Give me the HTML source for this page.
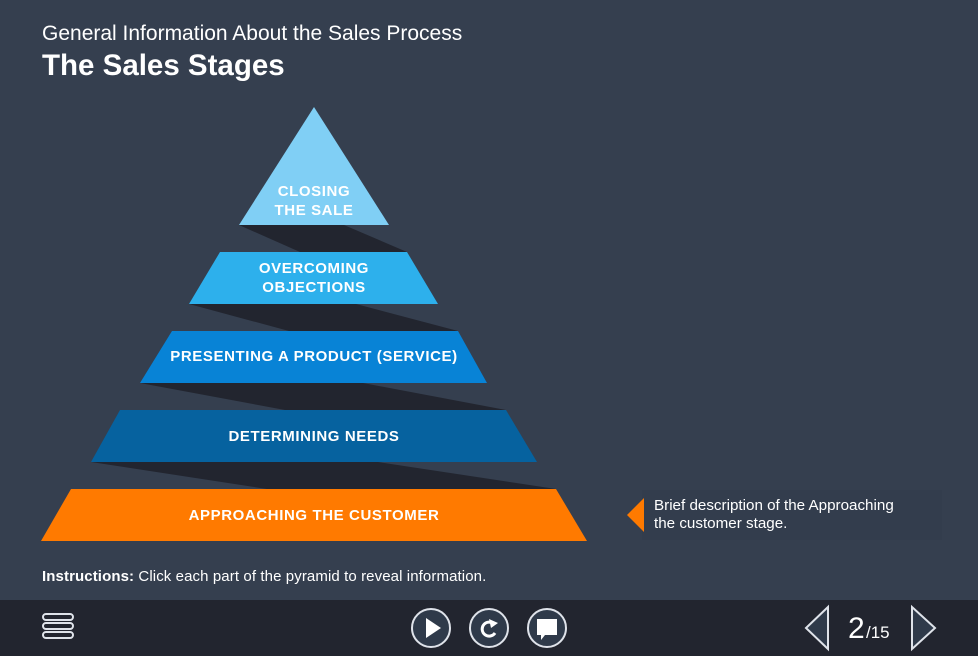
<!DOCTYPE html>
<html><head><style>
body{margin:0;width:978px;height:656px;background:#353f4f;font-family:"Liberation Sans",sans-serif;overflow:hidden;position:relative;color:#fff}
.t1{position:absolute;left:42px;top:22px;font-size:21px}
.t2{position:absolute;left:42px;top:49px;font-size:29.5px;font-weight:bold}
.lab{font-weight:bold;font-size:15px;letter-spacing:0.6px;fill:#fff;text-anchor:middle;font-family:"Liberation Sans",sans-serif}
.desc{position:absolute;left:642px;top:490px;width:300px;height:50px;background:#333d4d}
.dtxt{position:absolute;left:654px;top:497px;font-size:15.2px;line-height:18px}
.ins{position:absolute;left:42px;top:568px;font-size:15px;letter-spacing:0.1px}
.bar{position:absolute;left:0;top:600px;width:978px;height:56px;background:#22252f}
</style></head><body>
<div class="t1">General Information About the Sales Process</div>
<div class="t2">The Sales Stages</div>
<div class="desc"></div>
<svg width="978" height="656" style="position:absolute;left:0;top:0">
<g fill="#22252f">
<polygon points="239,225 344,225 407,252 300,252"/>
<polygon points="189,304 356,304 458,331 289,331"/>
<polygon points="140,383 363,383 506,410 285,410"/>
<polygon points="91,462 378,462 556,489 267,489"/>
</g>
<polygon points="314,107 389,225 239,225" fill="#80cff5"/>
<polygon points="220,252 407,252 438,304 189,304" fill="#2db0ec"/>
<polygon points="172,331 458,331 487,383 140,383" fill="#0883d6"/>
<polygon points="120,410 506,410 537,462 91,462" fill="#06629f"/>
<polygon points="71,489 556,489 587,541 41,541" fill="#ff7a00"/>
<text class="lab" x="314" y="196">CLOSING</text>
<text class="lab" x="314" y="215">THE SALE</text>
<text class="lab" x="314" y="273">OVERCOMING</text>
<text class="lab" x="314" y="292">OBJECTIONS</text>
<text class="lab" x="314" y="361">PRESENTING A PRODUCT (SERVICE)</text>
<text class="lab" x="314" y="441">DETERMINING NEEDS</text>
<text class="lab" x="314" y="520">APPROACHING THE CUSTOMER</text>
<polygon points="644,498 644,532 627,515" fill="#ff7a00"/>
</svg>
<div class="dtxt">Brief description of the Approaching<br>the customer stage.</div>
<div class="ins"><b>Instructions:</b> Click each part of the pyramid to reveal information.</div>
<div class="bar"></div>
<svg width="978" height="56" style="position:absolute;left:0;top:600px">
<g fill="none" stroke="#dfe3ea" stroke-width="2">
<rect x="43" y="14" width="30" height="6" rx="3"/>
<rect x="43" y="23" width="30" height="6" rx="3"/>
<rect x="43" y="32" width="30" height="6" rx="3"/>
<circle cx="431" cy="28" r="19" fill="#2f3a4a"/>
<circle cx="489" cy="28" r="19" fill="#2f3a4a"/>
<circle cx="547" cy="28" r="19" fill="#2f3a4a"/>
<polygon points="806,28 828,7 828,49" fill="#2f3a4a"/>
<polygon points="935,28 912,7 912,49" fill="#2f3a4a"/>
</g>
<polygon points="426,18 426,38 441,28" fill="#fff"/>
<path d="M494,24 A7,7 0 1 0 495,33" fill="none" stroke="#fff" stroke-width="3"/>
<polygon points="489,19 498,23 491,28" fill="#fff"/>
<path d="M537,19 h20 v16 h-12 l-4,5 v-5 h-4 z" fill="#fff"/>
<text x="848" y="38" fill="#fff" font-size="30" font-family="Liberation Sans">2</text>
<text x="866" y="38" fill="#fff" font-size="17" font-family="Liberation Sans">/15</text>
</svg>
</body></html>
